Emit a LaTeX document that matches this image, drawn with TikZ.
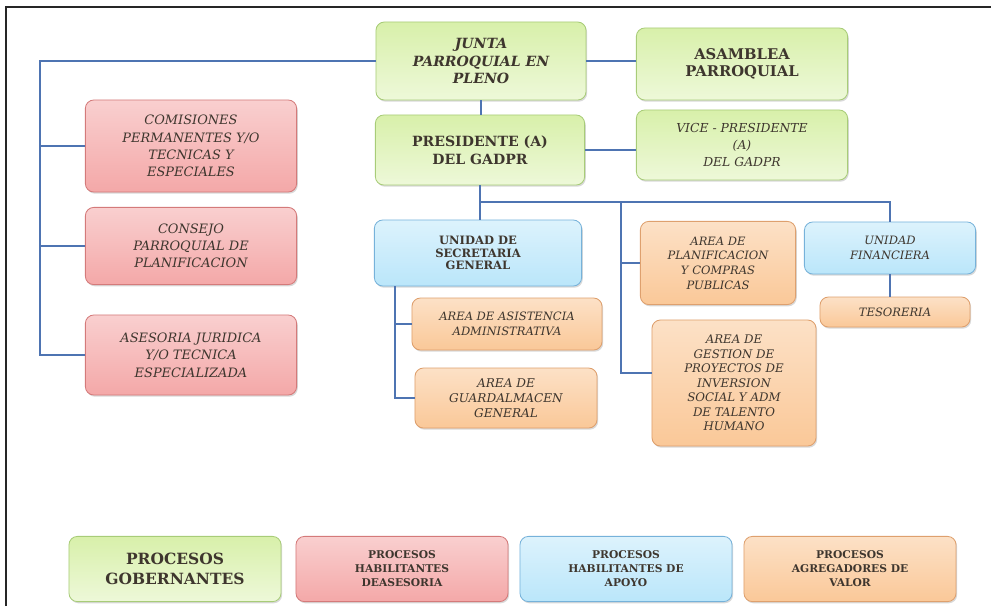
\documentclass[tikz,border=0pt]{standalone}
\usepackage{fontspec}
\setmainfont{DejaVu Serif}
\usepackage{xcolor}
\usepackage{tikz}
\usetikzlibrary{positioning,calc,shadows}
\definecolor{govgreen}{RGB}{216,240,170}
\definecolor{govedge}{RGB}{168,204,120}
\definecolor{asered}{RGB}{244,168,168}
\definecolor{aseedge}{RGB}{212,122,122}
\definecolor{apoblue}{RGB}{186,230,250}
\definecolor{apoedge}{RGB}{118,178,218}
\definecolor{valorange}{RGB}{250,200,152}
\definecolor{valedge}{RGB}{222,160,110}
\definecolor{linkblue}{RGB}{78,116,178}
\definecolor{inktext}{RGB}{62,54,46}
\newcommand{\fsz}[2]{\fontsize{#1}{#2}\selectfont}
\tikzset{
  orgbox/.style={rectangle, rounded corners=6pt, align=center, inner sep=2pt, line width=0.6pt,
    text=inktext, drop shadow={shadow xshift=0.8pt, shadow yshift=-1.2pt, opacity=0.3}},
  govbox/.style={orgbox, draw=govedge, top color=govgreen, bottom color=govgreen!45!white},
  asebox/.style={orgbox, draw=aseedge, top color=asered!55!white, bottom color=asered},
  apobox/.style={orgbox, draw=apoedge, top color=apoblue!50!white, bottom color=apoblue},
  valbox/.style={orgbox, draw=valedge, top color=valorange!55!white, bottom color=valorange},
  legendbox/.style={minimum width=5.3cm, minimum height=1.63cm},
  orgline/.style={draw=linkblue, line width=1.1pt},
}

\begin{document}
\begin{tikzpicture}[x=0.025cm, y=-0.025cm]
  \useasboundingbox (0,0) rectangle (991,606);
  \draw[line width=1.6pt, black!85] (6,606) -- (6,7) -- (991,7);

  % Governing bodies (top centre)
  \node[govbox, minimum width=5.25cm, minimum height=1.95cm, font=\fsz{10}{12.2}\bfseries\itshape] (junta) at (481,61) {JUNTA\\PARROQUIAL EN\\PLENO};
  \node[govbox, minimum width=5.28cm, minimum height=1.8cm, font=\fsz{10.5}{12.5}\bfseries] (asamblea) at (742,64) {ASAMBLEA\\PARROQUIAL};
  \node[govbox, minimum width=5.23cm, minimum height=1.75cm, font=\fsz{10}{12.5}\bfseries] (presidente) at (480,150) {PRESIDENTE (A)\\DEL GADPR};
  \node[govbox, minimum width=5.28cm, minimum height=1.75cm, font=\fsz{8.8}{11.8}\itshape] (vice) at (742,145) {VICE - PRESIDENTE\\(A)\\DEL GADPR};

  % Advisory units (left column)
  \node[asebox, minimum width=5.28cm, minimum height=2.3cm, font=\fsz{9.2}{12.2}\itshape] (comisiones) at (191,146) {COMISIONES\\PERMANENTES Y/O\\TECNICAS Y\\ESPECIALES};
  \node[asebox, minimum width=5.28cm, minimum height=1.93cm, font=\fsz{9.2}{12.2}\itshape] (consejo) at (191,246) {CONSEJO\\PARROQUIAL DE\\PLANIFICACION};
  \node[asebox, minimum width=5.28cm, minimum height=2.0cm, font=\fsz{9.2}{12.4}\itshape] (asesoria) at (191,355) {ASESORIA JURIDICA\\Y/O TECNICA\\ESPECIALIZADA};

  % Support and value units
  \node[apobox, minimum width=5.18cm, minimum height=1.65cm, font=\fsz{8.2}{9}\bfseries] (secretaria) at (478,253) {UNIDAD DE\\SECRETARIA\\GENERAL};
  \node[valbox, minimum width=4.75cm, minimum height=1.3cm, font=\fsz{8.2}{10.6}\itshape] (asistencia) at (507,324) {AREA DE ASISTENCIA\\ADMINISTRATIVA};
  \node[valbox, minimum width=4.55cm, minimum height=1.5cm, font=\fsz{8.6}{10.6}\itshape] (guardalmacen) at (506,398) {AREA DE\\GUARDALMACEN\\GENERAL};
  \node[valbox, minimum width=3.88cm, minimum height=2.08cm, font=\fsz{8.2}{10.4}\itshape] (planificacion) at (718,263) {AREA DE\\PLANIFICACION\\Y COMPRAS\\PUBLICAS};
  \node[valbox, minimum width=4.1cm, minimum height=3.15cm, font=\fsz{8.4}{10.3}\itshape] (gestion) at (734,383) {AREA DE\\GESTION DE\\PROYECTOS DE\\INVERSION\\SOCIAL Y ADM\\DE TALENTO\\HUMANO};
  \node[apobox, minimum width=4.28cm, minimum height=1.3cm, font=\fsz{8.2}{10.6}\itshape] (financiera) at (890,248) {UNIDAD\\FINANCIERA};
  \node[valbox, minimum width=3.75cm, minimum height=0.75cm, font=\fsz{8.2}{10}\itshape] (tesoreria) at (895,312) {TESORERIA};

  % Connectors
  \coordinate (lbus) at (40,61);
  \coordinate (rbus) at (481,202);
  \coordinate (vbus) at (621,202);
  \coordinate (sbus) at (395,286);
  \draw[orgline] (junta.west) -- (lbus) |- (asesoria.west);
  \draw[orgline] (lbus |- comisiones.west) -- (comisiones.west);
  \draw[orgline] (lbus |- consejo.west) -- (consejo.west);
  \draw[orgline] (junta.east) -- (junta.east -| asamblea.west);
  \draw[orgline] (junta.south) -- (junta.south |- presidente.north);
  \draw[orgline] (presidente.east) -- (presidente.east -| vice.west);
  \draw[orgline] (presidente.south) -- (presidente.south |- secretaria.north);
  \draw[orgline] (rbus) -| (financiera.north);
  \draw[orgline] (vbus) |- ($(gestion.west)+(0,-10)$);
  \draw[orgline] (vbus |- planificacion.west) -- (planificacion.west);
  \draw[orgline] (sbus) |- (guardalmacen.west);
  \draw[orgline] (sbus |- asistencia.west) -- (asistencia.west);
  \draw[orgline] (financiera.south) -- (financiera.south |- tesoreria.north);

  % Legend
  \node[govbox, legendbox, font=\fsz{11}{14}\bfseries] (leggob) at (175,569) {PROCESOS\\GOBERNANTES};
  \node[asebox, legendbox, font=\fsz{7.6}{10}\bfseries] (legase) at (402,569) {PROCESOS\\HABILITANTES\\DEASESORIA};
  \node[apobox, legendbox, font=\fsz{7.6}{10}\bfseries] (legapo) at (626,569) {PROCESOS\\HABILITANTES DE\\APOYO};
  \node[valbox, legendbox, font=\fsz{7.6}{10}\bfseries] (legval) at (850,569) {PROCESOS\\AGREGADORES DE\\VALOR};
\end{tikzpicture}
\end{document}
